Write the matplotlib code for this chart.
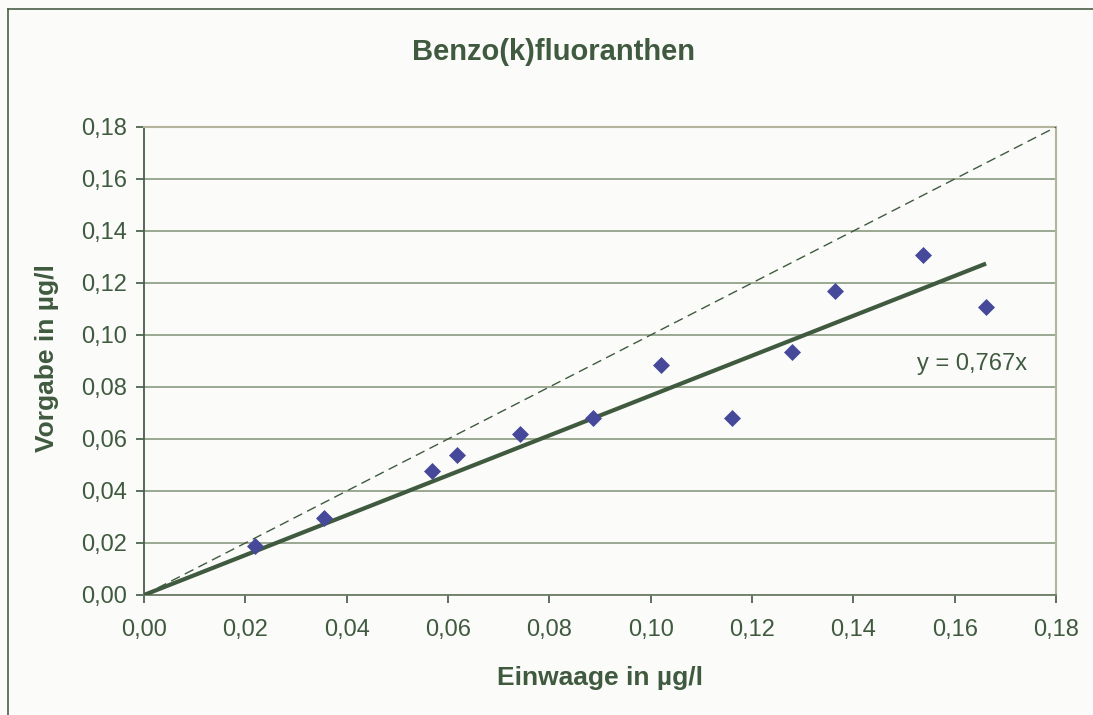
import matplotlib.pyplot as plt
import numpy as np

# Einwaage (x) vs Vorgabe (y), values in µg/l
einwaage = [0.0220, 0.0355, 0.0568, 0.0618, 0.0743, 0.0887, 0.1020, 0.1160, 0.1279, 0.1364, 0.1538, 0.1662]
vorgabe = [0.0188, 0.0297, 0.0478, 0.0540, 0.0618, 0.0680, 0.0885, 0.0680, 0.0933, 0.1170, 0.1308, 0.1107]
slope = 0.767
ticks = [0.00, 0.02, 0.04, 0.06, 0.08, 0.10, 0.12, 0.14, 0.16, 0.18]
tick_labels = ["0,00", "0,02", "0,04", "0,06", "0,08", "0,10", "0,12", "0,14", "0,16", "0,18"]

plt.rcParams['font.family'] = ['Liberation Sans', 'DejaVu Sans']
text_color = '#3f5a3f'
bg = '#fbfbf9'
W, H = 1093, 715

fig = plt.figure(figsize=(10.93, 7.15), dpi=100, facecolor=bg)
ax = fig.add_axes([144 / W, 1 - 595 / H, 912 / W, 468 / H], facecolor=bg)

# outer chart frame (only top/left visible in the reference)
fig.add_artist(plt.Line2D([8 / W, 8 / W], [0, 1 - 9 / H], color='#4a5e48', lw=1.2))
fig.add_artist(plt.Line2D([8 / W, 1], [1 - 9 / H, 1 - 9 / H], color='#4a5e48', lw=1.2))

# 1:1 reference line
ax.plot([0, 0.18], [0, 0.18], color='#3f5a3f', linestyle=(0, (7, 4)), lw=1.0, zorder=3)
# trend line through origin
xfit = np.array([0, max(einwaage)])
ax.plot(xfit, slope * xfit, color='#3f5a3f', lw=3, solid_capstyle='butt', zorder=4)
ax.scatter(einwaage, vorgabe, marker='D', s=75, color='#46489a', zorder=5, linewidths=0)

ax.text(0.1526, 0.0865, "y = 0,767x", fontsize=17, color=text_color, va='baseline')

ax.set_xlim(0, 0.18)
ax.set_ylim(0, 0.18)
ax.set_xticks(ticks)
ax.set_xticklabels(tick_labels)
ax.set_yticks(ticks)
ax.set_yticklabels(tick_labels)
ax.tick_params(axis='both', labelsize=17, colors='#3f5a3f', labelcolor=text_color, length=6, width=1.2)
ax.tick_params(axis='x', pad=11)
ax.tick_params(axis='y', pad=6)
ax.yaxis.grid(True, color='#8a9a80', lw=1.2)
ax.set_axisbelow(True)

for side in ['top', 'right']:
    ax.spines[side].set_color('#b4b49c')
    ax.spines[side].set_linewidth(1.5)
ax.spines['left'].set_color('#4a5e48')
ax.spines['bottom'].set_color('#6e7c66')
ax.spines['left'].set_linewidth(1.3)
ax.spines['bottom'].set_linewidth(1.3)

fig.text(553 / W, 1 - 52 / H, "Benzo(k)fluoranthen", fontsize=21, fontweight='bold',
         color=text_color, ha='center', va='center')
fig.text(600 / W, 1 - 678 / H, "Einwaage in µg/l", fontsize=19, fontweight='bold',
         color=text_color, ha='center', va='center')
fig.text(47 / W, 1 - 358 / H, "Vorgabe in µg/l", fontsize=19, fontweight='bold',
         color=text_color, ha='center', va='center', rotation=90)

fig.savefig("out.png", dpi=100, facecolor=bg)
